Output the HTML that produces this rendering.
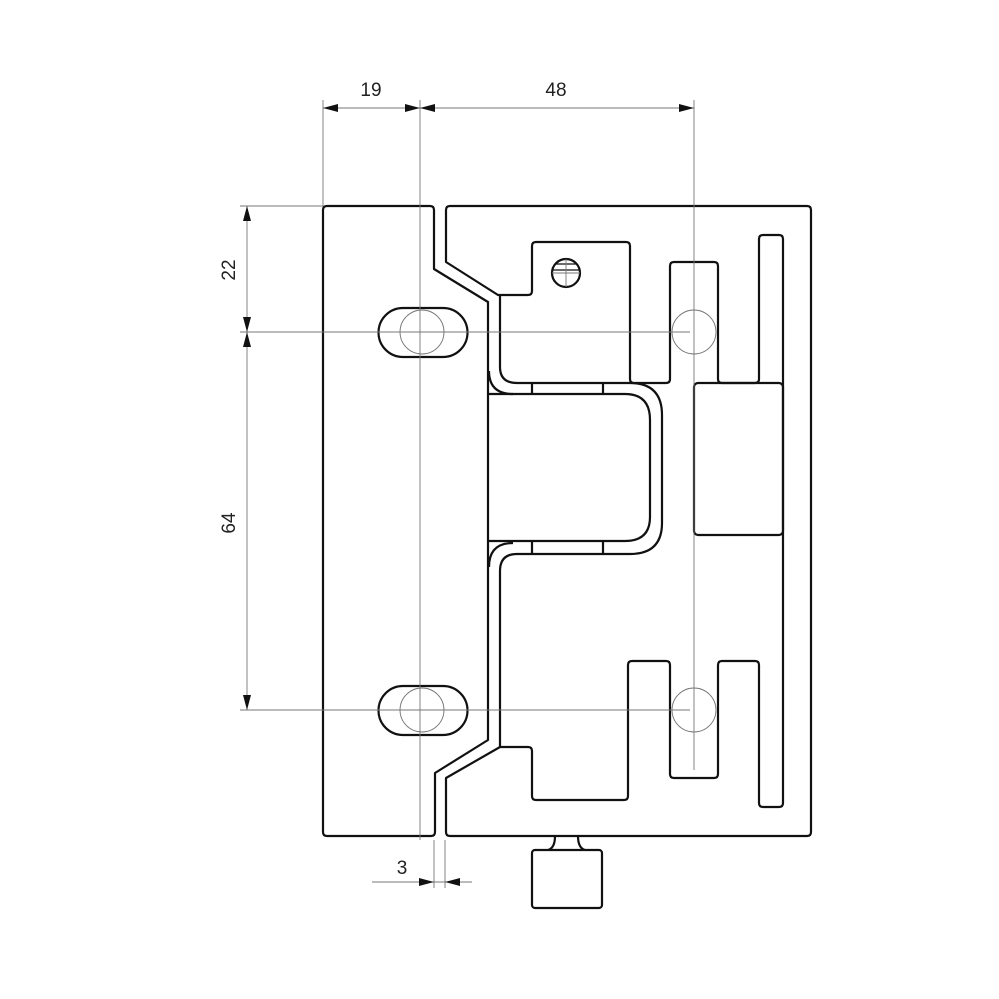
<!DOCTYPE html>
<html><head><meta charset="utf-8"><style>
html,body{margin:0;padding:0;background:#fff;}
svg{display:block;}
text{font-family:"Liberation Sans",sans-serif;font-size:19px;fill:#222;}
</style></head><body>
<svg width="999" height="999" viewBox="0 0 999 999" xmlns="http://www.w3.org/2000/svg">
<g fill="none" stroke="#111" stroke-width="2.2" stroke-linejoin="round">
<!-- left piece -->
<path d="M327,206 H430 Q434,206 434,210 V269 L488,302 V740 L435,773 V832 Q435,836 431,836 H327 Q323,836 323,832 V210 Q323,206 327,206 Z"/>
<!-- right piece outer -->
<path d="M450,206 H807 Q811,206 811,210 V832 Q811,836 807,836 H450 Q446,836 446,832 V778 L500,747 H528 Q532,747 532,751 V796 Q532,800 536,800 H624 Q628,800 628,796 V665 Q628,661 632,661 H666 Q670,661 670,665 V774 Q670,778 674,778 H714 Q718,778 718,774 V665 Q718,661 722,661 H755 Q759,661 759,665 V803 Q759,807 763,807 H779 Q783,807 783,803 V239 Q783,235 779,235 H763 Q759,235 759,239 V379 Q759,383 755,383 H722 Q718,383 718,379 V266 Q718,262 714,262 H674 Q670,262 670,266 V379 Q670,383 666,383 H634 Q630,383 630,379 V246 Q630,242 626,242 H536 Q532,242 532,246 V291 Q532,295 528,295 H498 L446,262 V210 Q446,206 450,206 Z"/>
<!-- right piece inner line -->
<path d="M500,295 V367 Q500,383 517,383 H630 Q662,383 662,415 V523 Q662,554 630,554 H517 Q500,554 500,571 V747"/>
<!-- knuckle inner -->
<path d="M489,394 H625 Q650,394 650,420 V517 Q650,541 625,541 H489"/>
<path d="M489,371 Q489,394 513,394"/>
<path d="M489,567 Q489,543 513,543"/>
<path d="M532,383 V394 M603,383 V394 M532,541 V554 M603,541 V554"/>
<!-- block -->
<rect x="694" y="383" width="89" height="152" rx="4"/>
<!-- slots -->
<path d="M403,308 H443 A24.5,24.5 0 0 1 443,357 H403 A24.5,24.5 0 0 1 403,308 Z"/>
<path d="M403,686 H443 A24.5,24.5 0 0 1 443,735 H403 A24.5,24.5 0 0 1 403,686 Z"/>
<!-- screw -->
<circle cx="566" cy="273" r="14"/>
<path d="M556,264 H576 M553,270 H579" stroke-width="1.3"/>
<!-- knob -->
<path d="M555,836 Q555,848 548,850 M578,836 Q578,848 585,850"/>
<rect x="532" y="850" width="70" height="58" rx="3"/>
</g>
<g fill="none" stroke="#777" stroke-width="0.9">
<circle cx="422" cy="332" r="22"/>
<circle cx="422" cy="710" r="22"/>
<circle cx="694" cy="332" r="22"/>
<circle cx="694" cy="710" r="22"/>
<!-- center/extension lines -->
<path d="M323,100 V206 M420,100 V840 M694,100 V770"/>
<path d="M240,206 H323 M240,332 H690 M240,710 H690"/>
<path d="M434,840 V888 M445,840 V888"/>
<path d="M323,108 H694"/>
<path d="M247,206 V710"/>
<path d="M372,882 H472"/>
<path d="M552,273 H580 M566,259 V287"/>
</g>
<g fill="#111">
<path d="M323,108 l15,-4 v8 Z"/><path d="M420,108 l-15,-4 v8 Z"/>
<path d="M420,108 l15,-4 v8 Z"/><path d="M694,108 l-15,-4 v8 Z"/>
<path d="M247,206 l-4,15 h8 Z"/><path d="M247,332 l-4,-15 h8 Z"/>
<path d="M247,332 l-4,15 h8 Z"/><path d="M247,710 l-4,-15 h8 Z"/>
<path d="M434,882 l-15,-4 v8 Z"/><path d="M445,882 l15,-4 v8 Z"/>
</g>
<text x="371" y="96" text-anchor="middle">19</text>
<text x="556" y="96" text-anchor="middle">48</text>
<text x="402" y="874" text-anchor="middle">3</text>
<text transform="translate(235,270) rotate(-90)" text-anchor="middle">22</text>
<text transform="translate(235,523) rotate(-90)" text-anchor="middle">64</text>
</svg>
</body></html>
